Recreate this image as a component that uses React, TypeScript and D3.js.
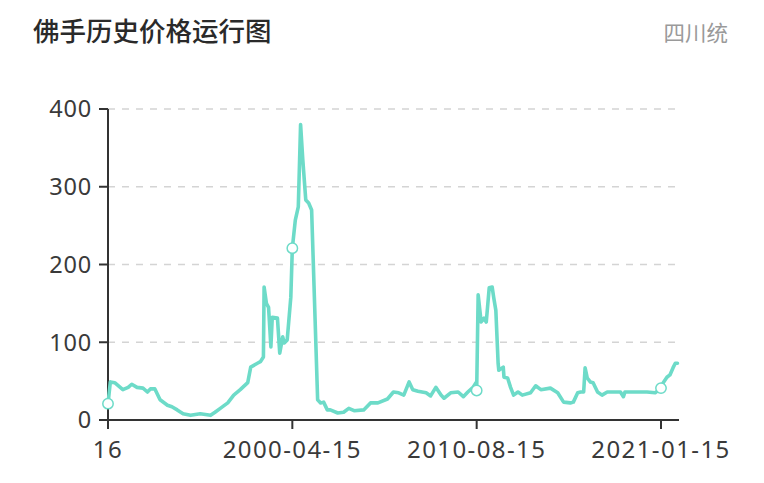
import React from "react";
import * as d3 from "d3";

const title = "佛手历史价格运行图";
const region = "四川统";

const dates: string[] = [
  "1989-12-15","1990-02-01","1990-05-01","1990-10-15","1991-02-01","1991-04-15","1991-08-01","1991-12-01",
  "1992-03-01","1992-05-01","1992-08-01","1992-11-15","1993-04-15","1993-07-15","1993-11-01","1994-03-01",
  "1994-08-01","1995-02-15","1995-09-15","1995-12-15","1996-04-01","1996-09-01","1997-01-01","1997-05-15",
  "1997-10-15","1997-12-15","1998-05-01","1998-07-01","1998-09-01","1998-09-15","1998-11-01","1998-12-15",
  "1999-02-01","1999-03-01","1999-06-15","1999-08-01","1999-10-01","1999-11-01","2000-01-01","2000-03-15",
  "2000-04-15","2000-06-15","2000-08-15","2000-10-01","2000-11-15","2001-01-15","2001-03-15","2001-05-15",
  "2001-09-15","2001-11-15","2002-01-15","2002-04-01","2002-06-01","2002-11-01","2003-03-01","2003-06-15",
  "2003-10-01","2004-04-15","2004-09-01","2005-02-01","2005-08-15","2005-12-15","2006-04-01","2006-07-15",
  "2006-11-01","2007-01-15","2007-05-01","2007-10-15","2008-01-15","2008-05-01","2008-08-15","2008-10-15",
  "2009-03-01","2009-08-01","2009-11-15","2010-02-15","2010-06-01","2010-08-01","2010-08-15","2010-09-15",
  "2010-11-15","2011-01-15","2011-03-01","2011-05-01","2011-07-01","2011-08-01","2011-09-15","2011-11-01",
  "2011-11-15","2012-02-15","2012-03-01","2012-05-15","2012-07-15","2012-09-15","2012-12-15","2013-03-15",
  "2013-09-01","2013-12-15","2014-04-01","2014-10-15","2015-03-15","2015-07-15","2015-12-01","2016-02-01",
  "2016-05-01","2016-07-01","2016-09-01","2016-10-01","2016-11-15","2017-01-15","2017-03-15","2017-06-15",
  "2017-09-15","2018-01-01","2018-10-01","2018-12-01","2019-01-01","2020-04-01","2020-09-15","2021-01-15",
  "2021-03-01","2021-05-15","2021-07-15","2021-09-15","2021-11-01","2021-12-15",
];

const prices: number[] = [
  21, 49, 48, 39, 42, 46, 42, 41,
  36, 40, 40, 26, 19, 17, 13, 8,
  6, 8, 6, 10, 15, 22, 32, 39,
  48, 68, 73, 75, 81, 171, 150, 145,
  94, 132, 131, 86, 107, 99, 103, 158,
  221, 257, 274, 380, 335, 283, 279, 270,
  26, 22, 23, 13, 13, 9, 10, 15,
  12, 13, 22, 22, 27, 36, 35, 32,
  49, 39, 37, 35, 31, 42, 32, 28,
  35, 36, 30, 36, 42, 48, 38, 161,
  126, 131, 126, 170, 171, 158, 141, 73,
  64, 68, 55, 54, 42, 32, 36, 32,
  35, 44, 39, 41, 35, 23, 22, 23,
  35, 36, 36, 67, 54, 49, 48, 36,
  32, 36, 36, 30, 36, 36, 35, 41,
  48, 55, 58, 67, 73, 73,
];

const tickDates: string[] = ["1989-12-15", "2000-04-15", "2010-08-15", "2021-01-15"];
const tickLabels: string[] = ["16", "2000-04-15", "2010-08-15", "2021-01-15"];
const yTicks: number[] = [0, 100, 200, 300, 400];
const xEnd = "2022-01-15";

const W = 764;
const H = 483;
const margin = { left: 108, right: 85, top: 109, bottom: 63 };
const tickSpan = 553; // distance from first to last labelled tick
const lineColor = "#6ddbc8";
const axisColor = "#333333";

export default function App() {
  const parse = d3.timeParse("%Y-%m-%d");
  const data = dates.map((d, i) => ({ date: parse(d) as Date, value: prices[i] }));

  const x0 = margin.left;
  const x1 = W - margin.right;
  const step = tickSpan / (tickDates.length - 1);

  const x = d3
    .scaleTime()
    .domain([...tickDates, xEnd].map((d) => parse(d) as Date))
    .range([...tickDates.map((_, i) => x0 + i * step), x1]);
  const y = d3
    .scaleLinear()
    .domain([0, 400])
    .range([H - margin.bottom, margin.top]);

  const line = d3
    .line<{ date: Date; value: number }>()
    .x((d) => x(d.date))
    .y((d) => y(d.value))
    .curve(d3.curveLinear);

  const markerSet = new Set(tickDates);
  const markers = data.filter((_, i) => markerSet.has(dates[i]));

  const yBase = y(0);
  const font = "'Noto Sans', 'Noto Sans CJK SC', sans-serif";

  return (
    <svg
      width={W}
      height={H}
      viewBox={`0 0 ${W} ${H}`}
      style={{ position: "absolute", left: 0, top: 0, background: "#ffffff" }}
    >
      <rect x={0} y={0} width={W} height={H} fill="#ffffff" />
      <text x={33} y={41} fontSize={26.5} fontWeight={500} fill="#2a2a2a" fontFamily="'Noto Sans CJK SC', sans-serif">
        {title}
      </text>
      <text x={728} y={41} fontSize={21.5} fill="#9a9a9a" textAnchor="end" fontFamily="'Noto Sans CJK SC', sans-serif">
        {region}
      </text>

      {yTicks
        .filter((t) => t > 0)
        .map((t) => (
          <line
            key={"g" + t}
            x1={x0}
            x2={x1}
            y1={y(t)}
            y2={y(t)}
            stroke="#d4d4d4"
            strokeWidth={1.5}
            strokeDasharray="7 7"
          />
        ))}

      {yTicks.map((t) => (
        <g key={"yt" + t}>
          <line x1={x0 - 9} x2={x0} y1={y(t)} y2={y(t)} stroke={axisColor} strokeWidth={2} />
          <text
            x={x0 - 16}
            y={y(t)}
            dy="0.36em"
            textAnchor="end"
            fontSize={23.5}
            letterSpacing={0.8}
            fill="#3a3a3a"
            fontFamily={font}
          >
            {t}
          </text>
        </g>
      ))}

      <line x1={x0} x2={x0} y1={y(400)} y2={yBase + 9} stroke={axisColor} strokeWidth={2} />
      <line x1={x0 - 9} x2={x1} y1={yBase} y2={yBase} stroke={axisColor} strokeWidth={2} />

      {tickDates.map((d, i) => {
        const tx = x(parse(d) as Date);
        return (
          <g key={"xt" + d}>
            <line x1={tx} x2={tx} y1={yBase} y2={yBase + 9} stroke={axisColor} strokeWidth={2} />
            <text
              x={tx}
              y={458}
              textAnchor="middle"
              fontSize={24}
              letterSpacing={1.4}
              fill="#3a3a3a"
              fontFamily={font}
            >
              {tickLabels[i]}
            </text>
          </g>
        );
      })}

      <path
        d={line(data) || ""}
        fill="none"
        stroke={lineColor}
        strokeWidth={3.6}
        strokeLinejoin="round"
        strokeLinecap="round"
      />

      {markers.map((m, i) => (
        <circle
          key={"m" + i}
          cx={x(m.date)}
          cy={y(m.value)}
          r={5.2}
          fill="#ffffff"
          stroke={lineColor}
          strokeWidth={1.5}
        />
      ))}
    </svg>
  );
}
